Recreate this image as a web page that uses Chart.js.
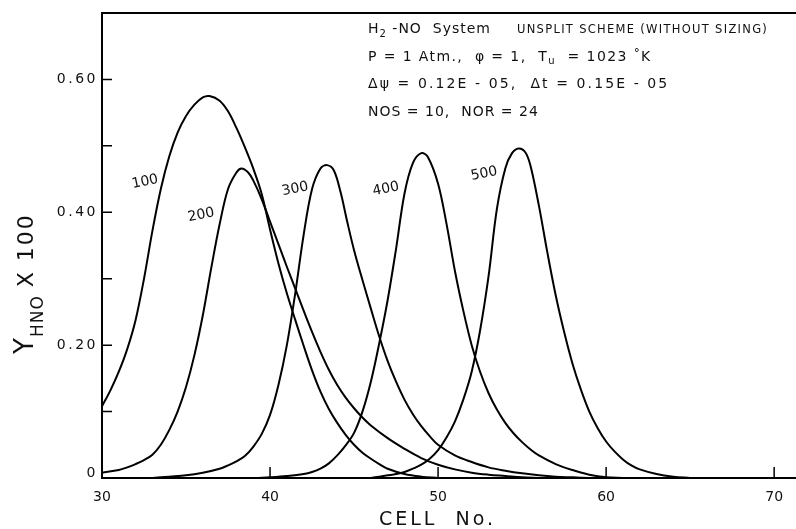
<!DOCTYPE html>
<html>
<head>
<meta charset="utf-8">
<script src="https://cdn.jsdelivr.net/npm/chart.js@4.4.1/dist/chart.umd.min.js"></script>
<style>
  html, body { margin: 0; padding: 0; background: #fff; }
  #wrap { width: 796px; height: 529px; }
</style>
</head>
<body>
<div id="wrap"><canvas id="chart" width="796" height="529"></canvas></div>
<script>
// cell numbers and Y_HNO x 100, one pair of arrays per time step
const cells100 = [30, 30.5, 31, 31.5, 32, 32.5, 33, 33.5, 34, 34.5, 35, 35.5, 36, 36.4, 37, 37.5, 38, 38.5, 39, 39.5, 40, 40.5, 41, 41.5, 42, 42.5, 43, 43.5, 44, 44.5, 45, 45.5, 46, 46.5, 47, 48, 49, 50];
const hno100 = [0.108, 0.132, 0.16, 0.194, 0.238, 0.3, 0.372, 0.435, 0.484, 0.52, 0.545, 0.562, 0.573, 0.575, 0.568, 0.552, 0.527, 0.498, 0.466, 0.428, 0.374, 0.323, 0.278, 0.238, 0.199, 0.162, 0.13, 0.104, 0.083, 0.065, 0.05, 0.038, 0.029, 0.021, 0.014, 0.006, 0.002, 0];

const cells200 = [30, 31, 31.5, 32, 32.5, 33, 33.5, 34, 34.5, 35, 35.5, 36, 36.5, 37, 37.5, 38, 38.3, 38.7, 39, 39.5, 40, 40.5, 41, 41.5, 42, 42.5, 43, 43.5, 44, 44.5, 45, 45.5, 46, 47, 48, 49, 50, 51, 52, 53, 54, 55, 56];
const hno200 = [0.008, 0.012, 0.016, 0.021, 0.027, 0.035, 0.05, 0.072, 0.1, 0.137, 0.185, 0.245, 0.316, 0.382, 0.435, 0.46, 0.466, 0.46, 0.448, 0.42, 0.386, 0.352, 0.318, 0.285, 0.252, 0.22, 0.19, 0.163, 0.14, 0.121, 0.105, 0.091, 0.079, 0.06, 0.044, 0.03, 0.02, 0.013, 0.008, 0.005, 0.003, 0.001, 0];

const cells300 = [33, 34, 35, 36, 37, 37.5, 38, 38.5, 39, 39.5, 40, 40.5, 41, 41.5, 42, 42.5, 43, 43.4, 43.8, 44.2, 44.6, 45, 45.5, 46, 46.5, 47, 47.5, 48, 48.5, 49, 49.5, 50, 51, 52, 53, 54, 55, 56, 57, 58, 59];
const hno300 = [0, 0.002, 0.004, 0.008, 0.014, 0.019, 0.025, 0.033, 0.047, 0.066, 0.095, 0.14, 0.2, 0.278, 0.366, 0.435, 0.466, 0.471, 0.463, 0.43, 0.385, 0.343, 0.298, 0.255, 0.213, 0.176, 0.145, 0.118, 0.096, 0.078, 0.063, 0.05, 0.034, 0.024, 0.016, 0.011, 0.007, 0.004, 0.002, 0.001, 0];

const cells400 = [39.3, 40, 41, 42, 42.5, 43, 43.5, 44, 44.5, 45, 45.5, 46, 46.5, 47, 47.5, 48, 48.5, 49, 49.4, 50, 50.5, 51, 51.5, 52, 52.5, 53, 53.5, 54, 54.5, 55, 55.5, 56, 57, 58, 59, 60, 61];
const hno400 = [0, 0.001, 0.003, 0.006, 0.009, 0.014, 0.022, 0.034, 0.049, 0.068, 0.1, 0.145, 0.203, 0.268, 0.345, 0.428, 0.474, 0.489, 0.483, 0.443, 0.383, 0.312, 0.252, 0.2, 0.16, 0.128, 0.103, 0.083, 0.067, 0.054, 0.043, 0.034, 0.021, 0.012, 0.005, 0.001, 0];

const cells500 = [46, 46.5, 47, 47.5, 48, 48.5, 49, 49.5, 50, 50.5, 51, 51.5, 52, 52.5, 53, 53.5, 54, 54.4, 54.8, 55.2, 55.5, 56, 56.5, 57, 57.5, 58, 58.5, 59, 59.5, 60, 60.5, 61, 61.5, 62, 63, 64, 65];
const hno500 = [0, 0.002, 0.004, 0.006, 0.009, 0.014, 0.02, 0.029, 0.042, 0.061, 0.085, 0.118, 0.16, 0.222, 0.303, 0.405, 0.466, 0.489, 0.496, 0.49, 0.47, 0.41, 0.34, 0.275, 0.22, 0.172, 0.133, 0.1, 0.075, 0.055, 0.04, 0.028, 0.019, 0.013, 0.006, 0.002, 0];

const curveNames = ['100', '200', '300', '400', '500'];
// where each curve number is written, in (cell, value) units
const nameCells = [32.56, 35.9, 41.49, 46.9, 52.74];
const nameValues = [0.446, 0.396, 0.435, 0.435, 0.458];

const xTickValues = [30, 40, 50, 60, 70];
const yTickValues = [0.1, 0.2, 0.3, 0.4, 0.5, 0.6];
const yLabelValues = [0, 0.2, 0.4, 0.6];
const yLabelText = ['0', '0.20', '0.40', '0.60'];

const FONT = '"DejaVu Sans", sans-serif';

const toPoints = (xs, ys) => xs.map((c, i) => ({ x: c, y: ys[i] }));
const series = [
  toPoints(cells100, hno100),
  toPoints(cells200, hno200),
  toPoints(cells300, hno300),
  toPoints(cells400, hno400),
  toPoints(cells500, hno500),
];

// draws a list of [text, size, dy] pieces one after another
function drawRuns(ctx, x, y, runs, spacing) {
  ctx.letterSpacing = spacing + 'px';
  let cx = x;
  runs.forEach(([text, size, dy]) => {
    ctx.font = size + 'px ' + FONT;
    ctx.fillText(text, cx, y + (dy || 0));
    cx += ctx.measureText(text).width;
  });
  ctx.letterSpacing = '0px';
  return cx;
}

const paperPlugin = {
  id: 'paper',
  afterDraw(chart) {
    const { ctx, chartArea: a, scales: { x, y } } = chart;
    ctx.save();
    ctx.strokeStyle = '#000';
    ctx.fillStyle = '#111';
    ctx.lineWidth = 2;

    // frame: top, left, bottom
    ctx.beginPath();
    ctx.moveTo(a.right, a.top);
    ctx.lineTo(a.left, a.top);
    ctx.lineTo(a.left, a.bottom);
    ctx.lineTo(a.right, a.bottom);
    ctx.stroke();

    // tick marks point into the plot
    ctx.lineWidth = 1.5;
    ctx.beginPath();
    yTickValues.forEach(v => {
      const py = y.getPixelForValue(v);
      ctx.moveTo(a.left, py);
      ctx.lineTo(a.left + 10, py);
    });
    xTickValues.slice(1).forEach(v => {
      const px = x.getPixelForValue(v);
      ctx.moveTo(px, a.bottom);
      ctx.lineTo(px, a.bottom - 11);
    });
    ctx.stroke();

    // y tick labels, spaced out like the original lettering
    ctx.textAlign = 'right';
    ctx.textBaseline = 'middle';
    ctx.letterSpacing = '2.5px';
    ctx.font = '14px ' + FONT;
    yLabelValues.forEach((v, i) => {
      const py = y.getPixelForValue(v) - (v === 0 ? 5 : 0);
      ctx.fillText(yLabelText[i], a.left - 4, py);
    });
    ctx.letterSpacing = '0px';

    // curve numbers
    ctx.textAlign = 'center';
    ctx.font = '14px ' + FONT;
    curveNames.forEach((name, i) => {
      ctx.save();
      ctx.translate(x.getPixelForValue(nameCells[i]), y.getPixelForValue(nameValues[i]));
      ctx.rotate(-0.2);
      ctx.fillText(name, 0, 0);
      ctx.restore();
    });

    // run conditions
    ctx.textAlign = 'left';
    ctx.textBaseline = 'alphabetic';
    const tx = 368;
    drawRuns(ctx, tx, 33, [['H', 14], ['2', 10, 4], [' -NO  System', 14]], 1);
    drawRuns(ctx, 517, 33, [['UNSPLIT SCHEME (WITHOUT SIZING)', 11.5]], 1.3);
    drawRuns(ctx, tx, 61, [['P = 1 Atm.,  φ = 1,  T', 14], ['u', 10, 3], ['  = 1023 ', 14], ['°', 12, -4], ['K', 14]], 1.4);
    drawRuns(ctx, tx, 88, [['Δψ = 0.12E - 05,  Δt = 0.15E - 05', 14]], 2.1);
    drawRuns(ctx, tx, 116, [['NOS = 10,  NOR = 24', 14]], 1);

    // x axis title
    drawRuns(ctx, 379, 525, [['CELL  No.', 19]], 3);

    // y axis title, rotated, with subscript
    ctx.save();
    ctx.translate(33, 354);
    ctx.rotate(-Math.PI / 2);
    let cx = drawRuns(ctx, 0, 0, [['Y', 26]], 0);
    cx = drawRuns(ctx, cx + 1, 10, [['HNO', 17]], 1);
    drawRuns(ctx, cx + 8, 0, [['X 100', 22]], 2);
    ctx.restore();

    ctx.restore();
  }
};

new Chart(document.getElementById('chart'), {
  type: 'line',
  data: {
    datasets: series.map((pts, i) => ({
      label: curveNames[i],
      data: pts,
      borderColor: '#000',
      borderWidth: 2,
      pointRadius: 0,
      fill: false,
      tension: 0.35,
    })),
  },
  options: {
    responsive: false,
    animation: false,
    devicePixelRatio: 1,
    layout: { padding: { top: 13, right: 0, left: 0, bottom: 0 } },
    plugins: { legend: { display: false }, tooltip: { enabled: false } },
    scales: {
      x: {
        type: 'linear',
        min: 30,
        max: 71.3,
        grid: { display: false },
        border: { display: false },
        afterBuildTicks: (scale) => { scale.ticks = xTickValues.map(v => ({ value: v })); },
        ticks: { color: '#111', font: { family: FONT, size: 14 }, padding: 3, maxRotation: 0 },
        afterFit: (scale) => { scale.height = 51; },
      },
      y: {
        min: 0,
        max: 0.7,
        grid: { display: false },
        border: { display: false },
        afterBuildTicks: (scale) => { scale.ticks = yLabelValues.map(v => ({ value: v })); },
        ticks: { display: false },
        afterFit: (scale) => { scale.width = 102; },
      },
    },
  },
  plugins: [paperPlugin],
});
</script>
</body>
</html>
